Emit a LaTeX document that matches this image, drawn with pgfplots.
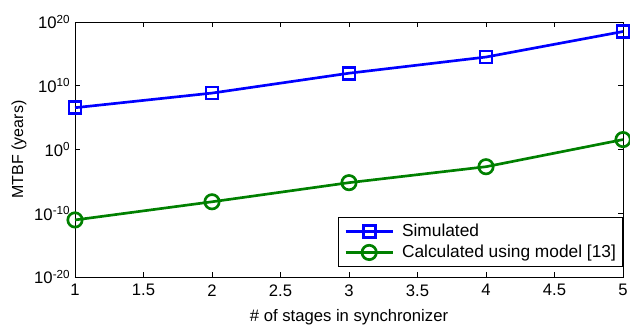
\documentclass[border=0pt]{standalone}
\usepackage{fontspec}
\setmainfont{Liberation Sans}
\usepackage{pgfplots}
\pgfplotsset{compat=1.18}
\definecolor{mblue}{rgb}{0,0,1}
\definecolor{mgreen}{rgb}{0,0.5,0}
\begin{document}
\begin{tikzpicture}
\useasboundingbox (-56.25pt,-36pt) rectangle (416.25pt,207.75pt);
\begin{axis}[
  scale only axis,
  width=411pt, height=191.25pt,
  xmin=1, xmax=5,
  ymode=log, ymin=1e-20, ymax=1e20,
  xtick={1,1.5,2,2.5,3,3.5,4,4.5,5},
  xticklabels={1,1.5,2,2.5,3,3.5,4,4.5,5},
  ytick={1e-20,1e-10,1,1e10,1e20},
  yticklabels={10\textsuperscript{-20},10\textsuperscript{-10},10\textsuperscript{0},10\textsuperscript{10},10\textsuperscript{20}},
  minor ytick={},
  tick align=inside,
  tick pos=both,
  major tick length=4pt,
  ticklabel style={font=\fontsize{12.5}{14}\selectfont},
  xticklabel style={yshift=-2pt},
  xlabel={\# of stages in synchronizer},
  ylabel={MTBF (years)},
  xlabel style={font=\fontsize{12.5}{14}\selectfont, yshift=-3pt},
  ylabel style={font=\fontsize{12}{14}\selectfont, yshift=-1pt},
  axis line style={line width=0.6pt},
  every tick/.style={black, line width=0.5pt},
  clip=false,
  legend style={at={(1,0.04)}, anchor=south east, font=\fontsize{13}{15}\selectfont, draw=black, line width=0.6pt, inner sep=3pt, row sep=1pt, cells={anchor=west}},
  legend cell align=left,
  legend image code/.code={\draw[mark repeat=2,mark phase=2] plot coordinates {(0cm,0cm) (0.62cm,0cm) (1.24cm,0cm)}; \path (-0.05cm,0cm) (1.38cm,0cm);},
  /pgf/number format/assume math mode=true,
]
\addplot[mblue, line width=2pt, mark=square, mark size=4.5pt, mark options={line width=2pt}] coordinates {
 (1,3.6e6) (2,7.1e8) (3,9.3e11) (4,3.2e14) (5,3.2e18)
};
\addlegendentry{Simulated}
\addplot[mgreen, line width=2pt, mark=o, mark size=5.4pt, mark options={line width=2pt}] coordinates {
 (1,8.9e-12) (2,6.3e-9) (3,6.3e-6) (4,2e-3) (5,36)
};
\addlegendentry{Calculated using model [13]}
\end{axis}
\end{tikzpicture}
\end{document}
